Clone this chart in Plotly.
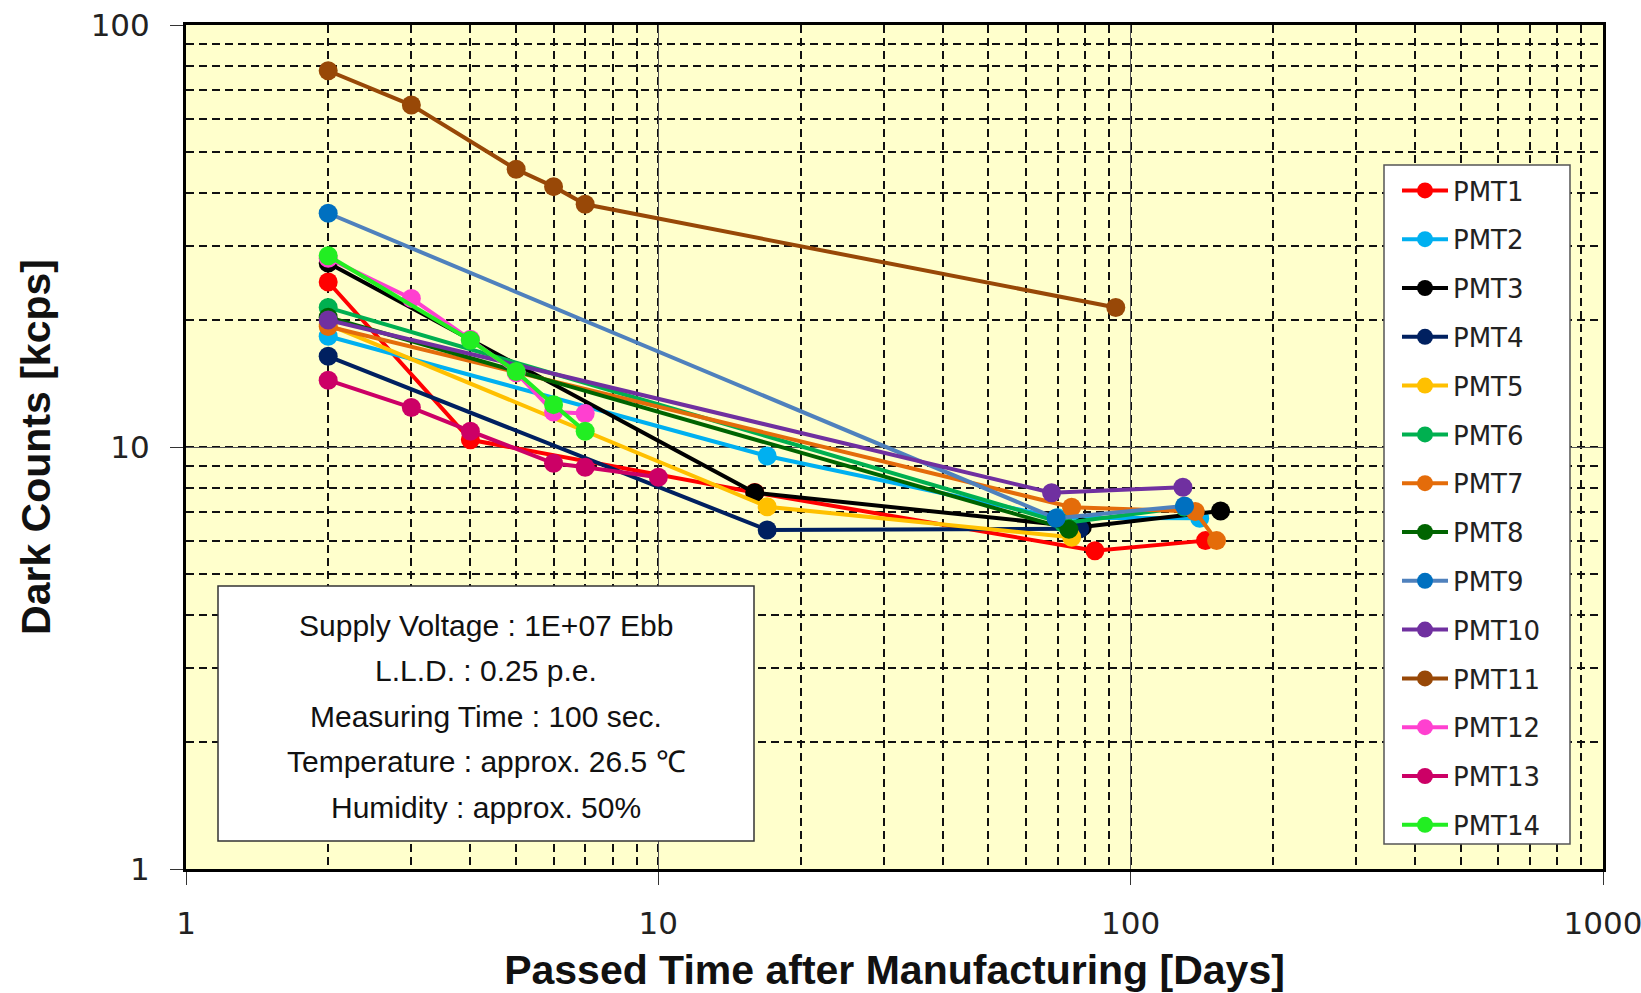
import plotly.graph_objects as go

names = ["PMT1", "PMT2", "PMT3", "PMT4", "PMT5", "PMT6", "PMT7",
         "PMT8", "PMT9", "PMT10", "PMT11", "PMT12", "PMT13", "PMT14"]

pmt1_days = [2, 4, 16, 84, 144]
pmt1_vals = [24.6, 10.4, 7.8, 5.68, 6.0]
pmt2_days = [2, 17, 70, 140]
pmt2_vals = [18.3, 9.52, 6.8, 6.78]
pmt3_days = [2, 16, 79, 155]
pmt3_vals = [27.3, 7.79, 6.46, 7.05]
pmt4_days = [2, 17, 78]
pmt4_vals = [16.4, 6.36, 6.4]
pmt5_days = [2, 17, 75]
pmt5_vals = [19.5, 7.22, 6.11]
pmt6_days = [2, 72, 130]
pmt6_vals = [21.4, 6.6, 7.2]
pmt7_days = [2, 75, 137, 152]
pmt7_vals = [19.3, 7.2, 7.03, 6.0]
pmt8_days = [2, 74]
pmt8_vals = [20.3, 6.38]
pmt9_days = [2, 69.5, 130]
pmt9_vals = [35.8, 6.78, 7.25]
pmt10_days = [2, 68, 129]
pmt10_vals = [20.0, 7.79, 8.03]
pmt11_days = [2, 3, 5, 6, 7, 93]
pmt11_vals = [77.9, 64.6, 45.5, 41.4, 37.6, 21.4]
pmt12_days = [2, 3, 4, 5, 6, 7]
pmt12_vals = [28.0, 22.5, 18.0, 15.0, 12.1, 12.0]
pmt13_days = [2, 3, 4, 6, 7, 10]
pmt13_vals = [14.4, 12.4, 10.9, 9.15, 8.95, 8.48]
pmt14_days = [2, 4, 5, 6, 7]
pmt14_vals = [28.4, 17.9, 15.1, 12.6, 10.9]

line_colors = ["#FF0000", "#00B0F0", "#000000", "#002060", "#FFC000", "#00B050",
               "#E46C0A", "#006400", "#4F81BD", "#7030A0", "#984807", "#FF40D0",
               "#CC0066", "#22EE22"]
marker_colors = ["#FF0000", "#00B0F0", "#000000", "#002060", "#FFC000", "#00B050",
                 "#E46C0A", "#006400", "#0070C0", "#7030A0", "#984807", "#FF40D0",
                 "#CC0066", "#22EE22"]

x_tickvals = [1, 10, 100, 1000]
x_ticktext = ["1", "10", "100", "1000"]
y_tickvals = [1, 10, 100]
y_ticktext = ["1", "10", "100"]

info_lines = ["Supply Voltage\u00a0: 1E+07 Ebb",
              "L.L.D.\u00a0: 0.25 p.e.",
              "Measuring Time\u00a0: 100 sec.",
              "Temperature\u00a0: approx. 26.5 \u2103",
              "Humidity\u00a0: approx. 50%"]

series_days = [pmt1_days, pmt2_days, pmt3_days, pmt4_days, pmt5_days, pmt6_days, pmt7_days,
               pmt8_days, pmt9_days, pmt10_days, pmt11_days, pmt12_days, pmt13_days, pmt14_days]
series_vals = [pmt1_vals, pmt2_vals, pmt3_vals, pmt4_vals, pmt5_vals, pmt6_vals, pmt7_vals,
               pmt8_vals, pmt9_vals, pmt10_vals, pmt11_vals, pmt12_vals, pmt13_vals, pmt14_vals]

fig = go.Figure()
for name, d, v, lc, mc in zip(names, series_days, series_vals, line_colors, marker_colors):
    fig.add_trace(go.Scatter(
        x=d, y=v, name=name, legendgroup=name, mode="lines+markers",
        line=dict(color=lc, width=4),
        marker=dict(color=mc, size=19),
    ))

grid_common = dict(
    type="log", showline=True, linecolor="black", linewidth=3, mirror=True,
    showgrid=True, gridcolor="#555555", gridwidth=1,
    ticks="outside", ticklen=13, tickcolor="#333333", tickwidth=1,
    tickfont=dict(family="DejaVu Sans", size=31, color="#222222"),
    minor=dict(dtick="D1", showgrid=True, griddash="8px,5px", gridcolor="#111111",
               gridwidth=2.2, ticks=""),
    zeroline=False, automargin=False, ticklabeloverflow="allow",
)

title_font = dict(family="Liberation Sans Narrow, Liberation Sans", size=41, color="#111111")

fig.update_xaxes(
    **grid_common, range=[0, 3], tickmode="array", tickvals=x_tickvals, ticktext=x_ticktext,
    ticklabelstandoff=12,
    title=dict(text="<b>Passed Time after Manufacturing [Days]</b>", font=title_font, standoff=22),
)
fig.update_yaxes(
    **grid_common, range=[0, 2], tickmode="array", tickvals=y_tickvals, ticktext=y_ticktext,
    ticklabelstandoff=14,
    title=dict(text="<b>Dark Counts [kcps]</b>", font=title_font, standoff=28),
)

# info box
fig.add_shape(type="rect", xref="paper", yref="paper",
              x0=(218 - 186) / 1417, x1=(754 - 186) / 1417,
              y0=(869 - 841) / 844, y1=(869 - 586) / 844,
              fillcolor="white", line=dict(color="#333333", width=1.5), layer="above")
line_y = [625, 670, 716, 761, 807]
for txt, py in zip(info_lines, line_y):
    fig.add_annotation(xref="paper", yref="paper", x=(486 - 186) / 1417, y=(869 - py) / 844,
                       text=txt, showarrow=False, xanchor="center", yanchor="middle",
                       font=dict(family="Liberation Sans Narrow, Liberation Sans", size=30,
                                 color="#111111"))

# legend frame (legend itself is drawn on top of it)
fig.add_shape(type="rect", xref="paper", yref="paper",
              x0=(1384 - 186) / 1417, x1=(1570 - 186) / 1417,
              y0=(869 - 844) / 844, y1=(869 - 165) / 844,
              fillcolor="white", line=dict(color="#555555", width=1.5), layer="above")

fig.update_layout(
    width=1641, height=993,
    margin=dict(l=186, r=38, t=25, b=124, autoexpand=False),
    paper_bgcolor="white", plot_bgcolor="#FFFFCC",
    showlegend=True,
    legend=dict(x=(1397 - 186) / 1417, y=(869 - 167) / 844, xanchor="left", yanchor="top",
                bgcolor="rgba(0,0,0,0)", borderwidth=0,
                font=dict(family="DejaVu Sans", size=26, color="#222222"),
                tracegroupgap=12, itemwidth=46),
)

fig.write_html("out.html")
